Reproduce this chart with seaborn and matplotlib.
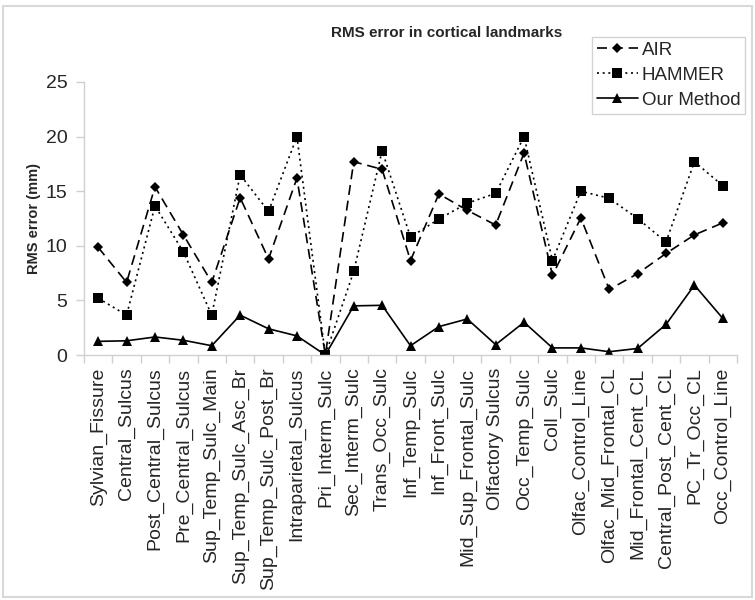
import numpy as np
import pandas as pd
import matplotlib
matplotlib.use("Agg")
import matplotlib.pyplot as plt
from matplotlib.patches import Rectangle
from matplotlib.ticker import FixedLocator
import seaborn as sns

categories = ["Sylvian_Fissure", "Central_Sulcus", "Post_Central_Sulcus", "Pre_Central_Sulcus",
              "Sup_Temp_Sulc_Main", "Sup_Temp_Sulc_Asc_Br", "Sup_Temp_Sulc_Post_Br",
              "Intraparietal_Sulcus", "Pri_Interm_Sulc", "Sec_Interm_Sulc", "Trans_Occ_Sulc",
              "Inf_Temp_Sulc", "Inf_Front_Sulc", "Mid_Sup_Frontal_Sulc", "Olfactory Sulcus",
              "Occ_Temp_Sulc", "Coll_Sulc", "Olfac_Control_Line", "Olfac_Mid_Frontal_CL",
              "Mid_Frontal_Cent_CL", "Central_Post_Cent_CL", "PC_Tr_Occ_CL", "Occ_Control_Line"]

air = [9.85, 6.65, 15.4, 11.0, 6.65, 14.4, 8.8, 16.2, 0.0, 17.7, 17.0, 8.65, 14.75,
       13.25, 11.9, 18.5, 7.3, 12.55, 6.0, 7.45, 9.3, 11.0, 12.1]
hammer = [5.2, 3.65, 13.65, 9.45, 3.65, 16.5, 13.15, 20.0, 0.0, 7.65, 18.7, 10.8, 12.45,
          13.9, 14.8, 20.0, 8.65, 15.0, 14.35, 12.5, 10.35, 17.7, 15.5]
ours = [1.25, 1.3, 1.65, 1.35, 0.85, 3.65, 2.4, 1.75, 0.0, 4.5, 4.55, 0.85, 2.6,
        3.3, 0.95, 3.0, 0.65, 0.65, 0.3, 0.6, 2.8, 6.4, 3.35]

series_names = ["AIR", "HAMMER", "Our Method"]
y_ticks = [0, 5, 10, 15, 20, 25]

sns.set_theme(style="white")
plt.rcParams['font.family'] = ['Liberation Sans', 'DejaVu Sans']

fig = plt.figure(figsize=(7.55, 6.0), dpi=100)
ax = fig.add_axes([84/755, 1 - 355/600, (737-84)/755, (355-82)/600])

idx = np.arange(len(categories))
df = pd.DataFrame({"idx": idx, "AIR": air, "HAMMER": hammer, "Our Method": ours})

styles = {
    "AIR": dict(marker="D", markersize=5.5, linestyle=(0, (6, 3.5))),
    "HAMMER": dict(marker="s", markersize=7, linestyle=(0, (1.2, 2.2))),
    "Our Method": dict(marker="^", markersize=7.5, linestyle="-"),
}
for name in series_names:
    st = styles[name]
    sns.lineplot(data=df, x="idx", y=name, ax=ax, color="black", linewidth=1.2,
                 marker=st["marker"], markersize=st["markersize"], markeredgewidth=0,
                 markerfacecolor="black", linestyle=st["linestyle"], label=name, sort=False)

ax.set_xlim(-0.5, len(categories) - 0.5)
ax.set_ylim(0, 25)
ax.set_yticks(y_ticks)
ax.set_yticklabels([str(t) for t in y_ticks], fontsize=14)
ax.set_xticks(idx)
ax.set_xticklabels(categories, rotation=90, fontsize=14, va="top", ha="center")
ax.xaxis.set_minor_locator(FixedLocator(np.arange(-0.5, len(categories), 1.0)))
ax.tick_params(axis="x", which="major", length=0, pad=9)
ax.tick_params(axis="x", which="minor", length=6, color="#d0d0d0", width=1, bottom=True)
ax.tick_params(axis="y", which="major", length=6, color="#d0d0d0", width=1, left=True, pad=6)
ax.set_xlabel("")
ax.set_ylabel("RMS error (mm)", fontsize=10.5, fontweight="bold", labelpad=3)

for s in ["top", "right"]:
    ax.spines[s].set_visible(False)
for s in ["left", "bottom"]:
    ax.spines[s].set_color("#d0d0d0")
    ax.spines[s].set_linewidth(1)
ax.grid(False)

handles, labels = ax.get_legend_handles_labels()
leg = ax.legend(handles, labels, loc="upper left", bbox_to_anchor=(592/755, 1 - 37/600),
                bbox_transform=fig.transFigure, fontsize=13.5, frameon=True, fancybox=False,
                edgecolor="#c8c8c8", handlelength=2.2, handletextpad=0.2, borderpad=0.25,
                labelspacing=0.42, borderaxespad=0)
leg.get_frame().set_linewidth(1)

fig.text(447/755, 1 - 33/600, "RMS error in cortical landmarks", ha="center", va="center",
         fontsize=11, fontweight="bold")

fig.patches.append(Rectangle((3/755, 3/600), 1 - 6/755, 1 - 9/600, transform=fig.transFigure,
                             fill=False, edgecolor="#d8d8d8", linewidth=1.5))

fig.savefig("out.png", dpi=100)
